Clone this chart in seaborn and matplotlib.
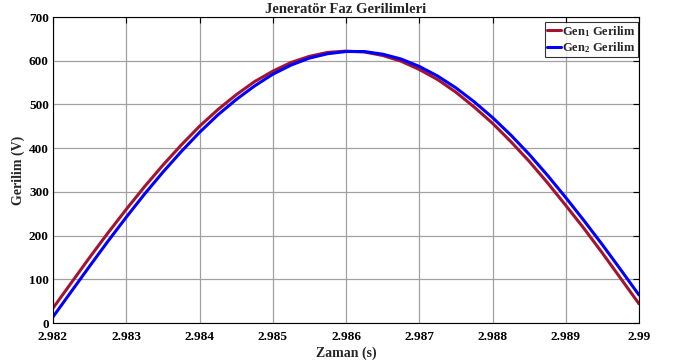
import numpy as np
import pandas as pd
import matplotlib
matplotlib.use("Agg")
import matplotlib.pyplot as plt
import seaborn as sns

# time samples (s)
t_start = 2.982
t_step = 0.00025
n_pts = 33
time = [round(t_start + i * t_step, 5) for i in range(n_pts)]

gen1 = [34, 92, 150, 206, 260, 312, 361, 407, 450, 488, 522, 552, 576, 596, 610, 619,
        622, 620, 612, 599, 580, 557, 528, 494, 457, 415, 370, 321, 269, 216, 160, 102, 44]
gen2 = [14, 72, 130, 187, 242, 295, 345, 392, 436, 476, 511, 542, 569, 590, 606, 616,
        621, 621, 615, 604, 587, 565, 538, 506, 470, 430, 386, 338, 287, 234, 179, 122, 64]

series_names = ["Gen$_1$ Gerilim", "Gen$_2$ Gerilim"]
colors = ["#A2142F", "#0000FF"]

xticks = [2.982, 2.983, 2.984, 2.985, 2.986, 2.987, 2.988, 2.989, 2.99]
xticklabels = ["2.982", "2.983", "2.984", "2.985", "2.986", "2.987", "2.988", "2.989", "2.99"]
yticks = [0, 100, 200, 300, 400, 500, 600, 700]

df = pd.DataFrame({
    "t": time * 2,
    "v": gen1 + gen2,
    "s": [series_names[0]] * n_pts + [series_names[1]] * n_pts,
})

sns.set_style("white")
plt.rcParams["font.family"] = ["Liberation Serif", "DejaVu Serif"]
plt.rcParams["font.weight"] = "bold"
plt.rcParams["mathtext.fontset"] = "custom"
plt.rcParams["mathtext.rm"] = "Liberation Serif:bold"
plt.rcParams["mathtext.it"] = "Liberation Serif:bold"
plt.rcParams["mathtext.bf"] = "Liberation Serif:bold"

fig = plt.figure(figsize=(6.79, 3.64), dpi=100)
ax = fig.add_axes([53 / 679, 1 - 323 / 364, (639 - 53) / 679, (323 - 17) / 364])

sns.lineplot(data=df, x="t", y="v", hue="s", palette=colors, linewidth=2.2,
             ax=ax, legend=True)

ax.set_xlim(2.982, 2.99)
ax.set_ylim(0, 700)
ax.set_xticks(xticks)
ax.set_xticklabels(xticklabels)
ax.set_yticks(yticks)
ax.grid(True, color="#a0a0a0", linewidth=0.9)
ax.set_axisbelow(True)
for sp in ax.spines.values():
    sp.set_color("black")
    sp.set_linewidth(0.8)
ax.tick_params(direction="in", length=4, width=0.8, top=True, right=True,
               labelsize=9.5, colors="black")
ax.tick_params(axis="x", pad=6)
ax.tick_params(axis="y", pad=3)
for lab in ax.get_xticklabels() + ax.get_yticklabels():
    lab.set_fontweight("bold")

ax.set_title("Jeneratör Faz Gerilimleri", fontsize=10.5, fontweight="bold", pad=3)
ax.set_xlabel("Zaman (s)", fontsize=10, fontweight="bold", labelpad=2)
ax.set_ylabel("Gerilim (V)", fontsize=10, fontweight="bold", labelpad=3)

leg = ax.legend(loc="upper right", bbox_to_anchor=(0.998, 0.984), fontsize=9,
                frameon=True, fancybox=False, edgecolor="black",
                handlelength=1.1, handletextpad=0.15, borderpad=0.15,
                labelspacing=0.15, borderaxespad=0.0)
leg.get_frame().set_linewidth(0.8)
for txt in leg.get_texts():
    txt.set_fontweight("bold")

fig.savefig("out.png", dpi=100)
